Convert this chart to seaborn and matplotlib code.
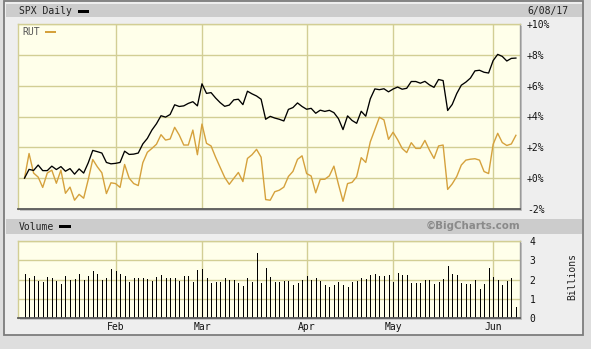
import numpy as np
import pandas as pd
import matplotlib
matplotlib.use("Agg")
import matplotlib.pyplot as plt
import seaborn as sns
from matplotlib.patches import Rectangle

# ---------------- data (percent change since first day; volume in billions) ----
spx_pct = [0.00, 0.57, 0.50, 0.85, 0.49, 0.49, 0.78, 0.56, 0.75, 0.45,
           0.62, 0.26, 0.60, 0.33, 0.99, 1.80, 1.72, 1.63, 1.02, 0.93,
           0.96, 1.02, 1.75, 1.54, 1.56, 1.63, 2.22, 2.58, 3.12, 3.53,
           4.05, 3.96, 4.13, 4.76, 4.65, 4.69, 4.85, 4.96, 4.69, 6.12,
           5.50, 5.55, 5.20, 4.90, 4.66, 4.74, 5.08, 5.12, 4.77, 5.64,
           5.47, 5.33, 5.12, 3.82, 4.01, 3.90, 3.82, 3.71, 4.46, 4.58,
           4.88, 4.65, 4.47, 4.53, 4.21, 4.41, 4.33, 4.40, 4.25, 3.86,
           3.15, 4.04, 3.74, 3.56, 4.34, 4.02, 5.15, 5.79, 5.74, 5.80,
           5.60, 5.78, 5.91, 5.77, 5.83, 6.27, 6.27, 6.16, 6.28, 6.05,
           5.89, 6.40, 6.33, 4.39, 4.78, 5.49, 6.03, 6.23, 6.49, 6.96,
           7.00, 6.87, 6.82, 7.63, 8.03, 7.90, 7.60, 7.77, 7.79]

rut_pct = [0.00, 1.60, 0.33, 0.07, -0.60, 0.33, 0.52, -0.33, 0.52, -0.98,
           -0.58, -1.43, -1.05, -1.30, -0.10, 1.21, 0.74, 0.35, -1.00, -0.30,
           -0.35, -0.60, 0.89, 0.00, -0.35, -0.48, 1.00, 1.68, 1.93, 2.20,
           2.82, 2.47, 2.54, 3.30, 2.80, 2.15, 2.15, 3.12, 1.52, 3.51,
           2.26, 2.09, 1.36, 0.70, 0.05, -0.40, -0.01, 0.37, -0.22, 1.28,
           1.52, 1.87, 1.36, -1.39, -1.43, -0.88, -0.78, -0.58, 0.11, 0.44,
           1.22, 1.45, 0.30, 0.14, -0.95, -0.08, -0.07, 0.15, 0.78, -0.40,
           -1.50, -0.35, -0.27, 0.09, 1.33, 1.02, 2.36, 3.15, 3.95, 3.78,
           2.52, 2.98, 2.50, 1.93, 1.66, 2.30, 1.93, 1.93, 2.45, 1.82,
           1.28, 2.09, 2.15, -0.73, -0.37, 0.11, 0.85, 1.17, 1.23, 1.26,
           1.17, 0.43, 0.30, 2.20, 2.91, 2.31, 2.12, 2.22, 2.78]

volume_b = [2.28, 2.06, 2.18, 1.92, 1.87, 2.11, 2.06, 1.92, 1.77, 2.18,
            1.97, 2.03, 2.28, 1.97, 2.18, 2.44, 2.28, 1.97, 2.06, 2.54,
            2.44, 2.28, 2.18, 1.89, 2.06, 2.06, 2.06, 2.03, 1.92, 2.11,
            2.23, 2.06, 2.06, 2.06, 1.92, 2.18, 2.18, 1.89, 2.49, 2.54,
            2.06, 1.84, 1.87, 1.87, 2.06, 1.97, 1.97, 1.82, 1.67, 2.06,
            1.87, 3.38, 1.82, 2.58, 2.11, 1.87, 1.87, 1.92, 1.92, 1.72,
            1.82, 1.97, 2.18, 1.97, 2.06, 1.92, 1.72, 1.63, 1.72, 1.87,
            1.72, 1.60, 1.87, 1.92, 2.06, 2.03, 2.23, 2.28, 2.18, 2.18,
            2.23, 1.87, 2.35, 2.23, 2.23, 1.82, 1.82, 1.82, 1.97, 1.97,
            1.77, 1.87, 2.03, 2.70, 2.28, 2.23, 1.82, 1.77, 1.77, 1.97,
            1.51, 1.77, 2.58, 2.13, 1.97, 1.72, 1.92, 2.08, 0.57]

market_holidays = ["2017-01-16", "2017-02-20", "2017-04-14", "2017-05-29"]
start_date, end_date = "2017-01-03", "2017-06-08"

pct_ticks = [-2, 0, 2, 4, 6, 8, 10]
pct_tick_labels = ["-2%", "+0%", "+2%", "+4%", "+6%", "+8%", "+10%"]
vol_ticks = [0, 1, 2, 3, 4]
vol_tick_labels = ["0", "1", "2", "3", "4"]
month_labels = ["Feb", "Mar", "Apr", "May", "Jun"]
date_label = "6/08/17"

# ---------------- table ----------------
dates = pd.bdate_range(start_date, end_date, freq="C", holidays=market_holidays)
df = pd.DataFrame({"date": dates, "day": np.arange(len(dates)),
                   "SPX": spx_pct, "RUT": rut_pct, "Volume": volume_b})
month_start_idx = df.groupby(df["date"].dt.month)["day"].min().iloc[1:].tolist()

# ---------------- style ----------------
plt.rcParams["font.family"] = ["DejaVu Sans Mono"]
FS = 7
GRID = "#D2CE94"
PLOT_BG = "#FFFFEA"
ORANGE = "#D5A13C"

W, H = 591, 349
fig = plt.figure(figsize=(W / 100, H / 100), dpi=100, facecolor="#DEDEDE")


def rect_px(x0, y0, x1, y1, **kw):
    r = Rectangle((x0 / W, 1 - y1 / H), (x1 - x0) / W, (y1 - y0) / H,
                  transform=fig.transFigure, **kw)
    fig.add_artist(r)
    return r


# outer panel, header bars, shadows
rect_px(4, 1, 583, 335, facecolor="#EEEEEE", edgecolor="#7C7C7C", lw=1.3, zorder=-5)
rect_px(6, 4, 582, 17, facecolor="#CCCCCC", edgecolor="none", zorder=-4)
rect_px(6, 219, 582, 234, facecolor="#CCCCCC", edgecolor="none", zorder=-4)
rect_px(20, 26, 522, 211, facecolor="#C4C4C4", edgecolor="none", zorder=-3)
rect_px(20, 243, 522, 320, facecolor="#C4C4C4", edgecolor="none", zorder=-3)

xlim = (-1.43, 108.9)

# ---------------- price panel ----------------
ax1 = fig.add_axes([18 / W, 1 - 209 / H, 502 / W, 185 / H])
ax1.set_facecolor(PLOT_BG)
sns.lineplot(data=df, x="day", y="RUT", ax=ax1, color=ORANGE, lw=1.0)
sns.lineplot(data=df, x="day", y="SPX", ax=ax1, color="black", lw=0.95)
ax1.set_xlim(*xlim)
ax1.set_ylim(-2, 10)
ax1.set_yticks(pct_ticks)
ax1.set_yticklabels(pct_tick_labels)
ax1.set_xticks(month_start_idx)
ax1.set_xticklabels([])
ax1.yaxis.tick_right()
ax1.tick_params(length=0, pad=5, labelsize=FS, colors="#111111")
ax1.grid(True, color=GRID, lw=1.0)
ax1.set_axisbelow(True)
ax1.set_xlabel("")
ax1.set_ylabel("")
for s in ["top", "left"]:
    ax1.spines[s].set_color(GRID)
    ax1.spines[s].set_linewidth(1.0)
ax1.spines["right"].set_color("#9A9A9A")
ax1.spines["right"].set_linewidth(1.0)
ax1.spines["bottom"].set_color("#5A5A5A")
ax1.spines["bottom"].set_linewidth(1.3)

# ---------------- volume panel ----------------
ax2 = fig.add_axes([18 / W, 1 - 318 / H, 502 / W, 77 / H])
ax2.set_facecolor(PLOT_BG)
ax2.vlines(df["day"], 0, df["Volume"], color="black", lw=0.72, antialiaseds=False)
ax2.set_xlim(*xlim)
ax2.set_ylim(0, 4)
ax2.set_yticks(vol_ticks)
ax2.set_yticklabels(vol_tick_labels)
ax2.yaxis.tick_right()
ax2.set_xticks(month_start_idx)
ax2.set_xticklabels(month_labels)
ax2.tick_params(axis="y", length=0, pad=7, labelsize=FS, colors="#111111")
ax2.tick_params(axis="x", length=0, pad=3, labelsize=FS, colors="#111111")
ax2.grid(True, color=GRID, lw=1.0)
ax2.set_axisbelow(True)
for s in ["top", "left"]:
    ax2.spines[s].set_color(GRID)
    ax2.spines[s].set_linewidth(1.0)
ax2.spines["right"].set_color("#9A9A9A")
ax2.spines["right"].set_linewidth(1.0)
ax2.spines["bottom"].set_color("#5A5A5A")
ax2.spines["bottom"].set_linewidth(1.3)

# ---------------- texts & legend swatches ----------------
fig.text(19 / W, 1 - 11 / H, "SPX Daily", ha="left", va="center", size=FS, color="#222222")
rect_px(78, 9.5, 89, 12.5, facecolor="black", edgecolor="none", zorder=2)
fig.text(569 / W, 1 - 11 / H, date_label, ha="right", va="center", size=FS, color="#222222")

fig.text(22.5 / W, 1 - 32 / H, "RUT", ha="left", va="center", size=FS, color="#555555", zorder=5)
rect_px(45, 30.5, 56, 33, facecolor=ORANGE, edgecolor="none", zorder=5)

fig.text(19 / W, 1 - 227 / H, "Volume", ha="left", va="center", size=FS, color="#222222")
rect_px(59, 225, 71, 228, facecolor="black", edgecolor="none", zorder=2)
fig.text(520 / W, 1 - 226 / H, "\u00a9BigCharts.com", ha="right", va="center",
         size=7.4, color="#8A8A8A", fontweight="bold", family=["DejaVu Sans"])
fig.text(572 / W, 1 - 277 / H, "Billions", ha="center", va="center", rotation=90,
         size=FS, color="#222222")

fig.savefig("out.png", dpi=100, facecolor=fig.get_facecolor())
